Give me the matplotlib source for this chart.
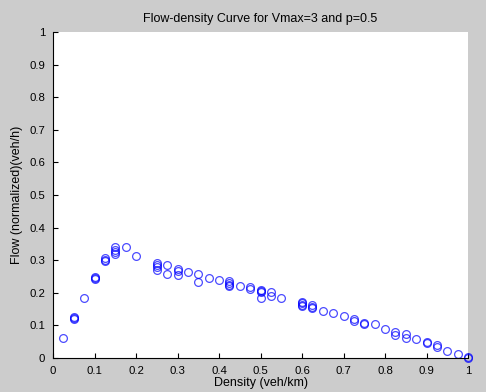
import matplotlib
matplotlib.use("Agg")
import matplotlib.pyplot as plt

density = [0.025, 0.05, 0.05, 0.05, 0.075, 0.1, 0.1, 0.1, 0.125, 0.125, 0.125,
           0.15, 0.15, 0.15, 0.15, 0.175, 0.2,
           0.25, 0.25, 0.25, 0.25, 0.275, 0.275, 0.3, 0.3, 0.3, 0.325,
           0.35, 0.35, 0.375, 0.4, 0.425, 0.425, 0.425, 0.425, 0.45,
           0.475, 0.475, 0.5, 0.5, 0.5, 0.5, 0.525, 0.525, 0.55,
           0.6, 0.6, 0.6, 0.6, 0.625, 0.625, 0.625, 0.65, 0.675, 0.7,
           0.725, 0.725, 0.75, 0.75, 0.775, 0.8, 0.825, 0.825, 0.85, 0.85,
           0.875, 0.9, 0.9, 0.925, 0.925, 0.95, 0.975, 1.0, 1.0]
flow = [0.062, 0.125, 0.12, 0.122, 0.185, 0.249, 0.243, 0.246, 0.306, 0.298, 0.302,
        0.341, 0.33, 0.325, 0.318, 0.34, 0.313,
        0.29, 0.285, 0.28, 0.27, 0.285, 0.258, 0.274, 0.268, 0.255, 0.265,
        0.257, 0.234, 0.246, 0.239, 0.237, 0.23, 0.225, 0.22, 0.221,
        0.219, 0.211, 0.209, 0.205, 0.202, 0.183, 0.203, 0.19, 0.185,
        0.173, 0.168, 0.163, 0.158, 0.162, 0.157, 0.152, 0.145, 0.137, 0.129,
        0.12, 0.115, 0.108, 0.104, 0.104, 0.088, 0.081, 0.071, 0.074, 0.062,
        0.057, 0.05, 0.046, 0.039, 0.035, 0.022, 0.012, 0.002, 0.0]

xticks = [0, 0.1, 0.2, 0.3, 0.4, 0.5, 0.6, 0.7, 0.8, 0.9, 1]
tick_labels = ["0", "0.1", "0.2", "0.3", "0.4", "0.5", "0.6", "0.7", "0.8", "0.9", "1"]

plt.rcParams['font.family'] = ['Liberation Sans', 'DejaVu Sans']

fig = plt.figure(figsize=(4.86, 3.92), dpi=100, facecolor='#cccccc')
W, H = 486, 392
left, right, top, bottom = 53, 468, 32, 358
ax = fig.add_axes([left / W, 1 - bottom / H, (right - left) / W, (bottom - top) / H])
ax.set_facecolor('white')

ax.plot(density, flow, linestyle='none', marker='o', markersize=5.6,
        markerfacecolor='none', markeredgecolor='#0000ff', markeredgewidth=0.9,
        alpha=0.7, clip_on=False)

ax.set_xlim(0, 1)
ax.set_ylim(0, 1)
ax.set_xticks(xticks)
ax.set_xticklabels(tick_labels)
ax.set_yticks(xticks)
ax.set_yticklabels(tick_labels)
for s in ['top', 'right']:
    ax.spines[s].set_visible(False)
for s in ['left', 'bottom']:
    ax.spines[s].set_linewidth(0.8)
ax.tick_params(direction='in', length=3.6, width=0.8, labelsize=8.2, pad=5.5)

ax.set_title('Flow-density Curve for Vmax=3 and p=0.5', fontsize=9, pad=7)
ax.set_xlabel('Density (veh/km)', fontsize=9, labelpad=1)
ax.set_ylabel('Flow (normalized)(veh/h)', fontsize=9, labelpad=5)

fig.savefig('out.png', dpi=100, facecolor=fig.get_facecolor())
